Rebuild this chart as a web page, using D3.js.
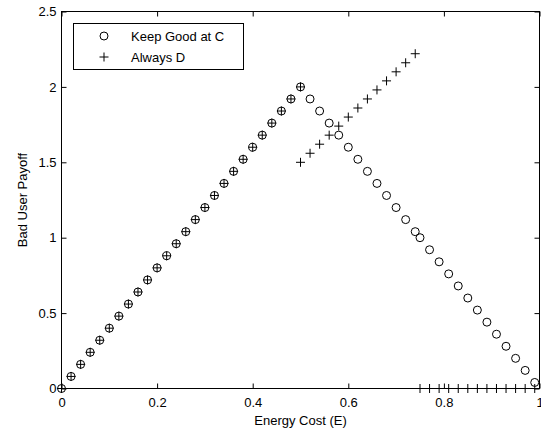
<!DOCTYPE html>
<html>
<head>
<meta charset="utf-8">
<script src="https://cdn.jsdelivr.net/npm/d3@7"></script>
<style>
  body { margin: 0; background: #fff; }
  text { font-family: "Liberation Sans", Arial, sans-serif; }
  .axis path { display: none; }
  .axis line { stroke: #000; }
  .axis text { font-size: 13px; fill: #000; font-family: "Liberation Sans", Arial, sans-serif; }
</style>
</head>
<body>
<div id="chart-area"></div>
<script>
// Keep Good at C (circles)
const goodX = [0, 0.02, 0.04, 0.06, 0.08, 0.1, 0.12, 0.14, 0.16, 0.18, 0.2, 0.22, 0.24,
  0.26, 0.28, 0.3, 0.32, 0.34, 0.36, 0.38, 0.4, 0.42, 0.44, 0.46, 0.48, 0.5,
  0.52, 0.54, 0.56, 0.58, 0.6, 0.62, 0.64, 0.66, 0.68, 0.7, 0.72, 0.74,
  0.75, 0.77, 0.79, 0.81, 0.83, 0.85, 0.87, 0.89, 0.91, 0.93, 0.95, 0.97, 0.99];
const goodY = [0, 0.08, 0.16, 0.24, 0.32, 0.4, 0.48, 0.56, 0.64, 0.72, 0.8, 0.88, 0.96,
  1.04, 1.12, 1.2, 1.28, 1.36, 1.44, 1.52, 1.6, 1.68, 1.76, 1.84, 1.92, 2.0,
  1.92, 1.84, 1.76, 1.68, 1.6, 1.52, 1.44, 1.36, 1.28, 1.2, 1.12, 1.04,
  1.0, 0.92, 0.84, 0.76, 0.68, 0.6, 0.52, 0.44, 0.36, 0.28, 0.2, 0.12, 0.04];

// Always D (plus signs)
const alwaysX = [0, 0.02, 0.04, 0.06, 0.08, 0.1, 0.12, 0.14, 0.16, 0.18, 0.2, 0.22, 0.24,
  0.26, 0.28, 0.3, 0.32, 0.34, 0.36, 0.38, 0.4, 0.42, 0.44, 0.46, 0.48, 0.5,
  0.5, 0.52, 0.54, 0.56, 0.58, 0.6, 0.62, 0.64, 0.66, 0.68, 0.7, 0.72, 0.74,
  0.75, 0.77, 0.79, 0.81, 0.83, 0.85, 0.87, 0.89, 0.91, 0.93, 0.95, 0.97, 0.99];
const alwaysY = [0, 0.08, 0.16, 0.24, 0.32, 0.4, 0.48, 0.56, 0.64, 0.72, 0.8, 0.88, 0.96,
  1.04, 1.12, 1.2, 1.28, 1.36, 1.44, 1.52, 1.6, 1.68, 1.76, 1.84, 1.92, 2.0,
  1.5, 1.56, 1.62, 1.68, 1.74, 1.8, 1.86, 1.92, 1.98, 2.04, 2.1, 2.16, 2.22,
  0, 0, 0, 0, 0, 0, 0, 0, 0, 0, 0, 0, 0];

const xTicks = [0, 0.2, 0.4, 0.6, 0.8, 1];
const yTicks = [0, 0.5, 1, 1.5, 2, 2.5];
const seriesNames = ["Keep Good at C", "Always D"];

const plotLeft = 61.5, plotRight = 539.5, plotTop = 11.5, plotBottom = 388.5;

const x = d3.scaleLinear().domain([0, 1]).range([plotLeft, plotRight]);
const y = d3.scaleLinear().domain([0, 2.5]).range([plotBottom, plotTop]);

const svg = d3.select('#chart-area').append('svg')
  .attr('width', 541)
  .attr('height', 430);

// inward ticks on all four sides
svg.append('g').attr('class', 'axis')
  .attr('transform', `translate(0,${plotBottom})`)
  .call(d3.axisBottom(x).tickValues(xTicks).tickFormat(d3.format('')).tickSize(-5).tickPadding(9));
svg.append('g').attr('class', 'axis')
  .attr('transform', `translate(0,${plotTop})`)
  .call(d3.axisTop(x).tickValues(xTicks).tickFormat('').tickSize(-5));
svg.append('g').attr('class', 'axis')
  .attr('transform', `translate(${plotLeft},0)`)
  .call(d3.axisLeft(y).tickValues(yTicks).tickFormat(d3.format('')).tickSize(-5).tickPadding(5));
svg.append('g').attr('class', 'axis')
  .attr('transform', `translate(${plotRight},0)`)
  .call(d3.axisRight(y).tickValues(yTicks).tickFormat('').tickSize(-5));

svg.append('rect')
  .attr('x', plotLeft).attr('y', plotTop)
  .attr('width', plotRight - plotLeft).attr('height', plotBottom - plotTop)
  .attr('fill', 'none').attr('stroke', '#000');

// markers
svg.selectAll('circle.good')
  .data(goodX)
  .enter().append('circle')
    .attr('class', 'good')
    .attr('cx', d => x(d))
    .attr('cy', (d, i) => y(goodY[i]))
    .attr('r', 4)
    .attr('fill', 'none')
    .attr('stroke', '#000');

const plus = 'M-4.5,0H4.5M0,-4.5V4.5';
svg.selectAll('path.always')
  .data(alwaysX)
  .enter().append('path')
    .attr('class', 'always')
    .attr('d', plus)
    .attr('transform', (d, i) => `translate(${x(d)},${y(alwaysY[i])})`)
    .attr('stroke', '#000');

// axis titles
svg.append('text')
  .attr('x', (plotLeft + plotRight) / 2).attr('y', 425)
  .attr('text-anchor', 'middle').attr('font-size', 13)
  .text('Energy Cost (E)');
svg.append('text')
  .attr('transform', `translate(27,${(plotTop + plotBottom) / 2}) rotate(-90)`)
  .attr('text-anchor', 'middle').attr('font-size', 13)
  .text('Bad User Payoff');

// legend
const legend = svg.append('g');
legend.append('rect')
  .attr('x', 73.5).attr('y', 23.5).attr('width', 170).attr('height', 46)
  .attr('fill', '#fff').attr('stroke', '#000');
legend.append('circle')
  .attr('cx', 104).attr('cy', 36).attr('r', 4)
  .attr('fill', 'none').attr('stroke', '#000');
legend.append('path')
  .attr('d', plus).attr('transform', 'translate(104,57)')
  .attr('stroke', '#000');
legend.selectAll('text')
  .data(seriesNames)
  .enter().append('text')
    .attr('x', 131)
    .attr('y', (d, i) => 41 + i * 21)
    .attr('font-size', 13)
    .text(d => d);
</script>
</body>
</html>
